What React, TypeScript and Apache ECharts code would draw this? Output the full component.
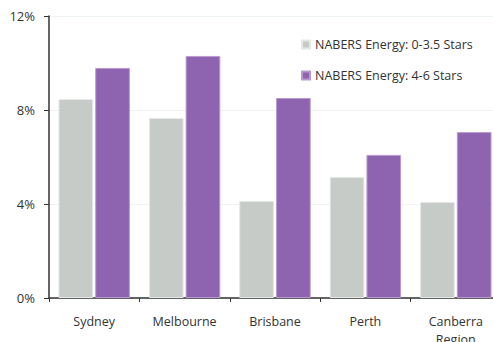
import React, { useEffect, useRef } from "react";
import * as echarts from "echarts";

const categories = ["Sydney", "Melbourne", "Brisbane", "Perth", "Canberra\nRegion"];
const lowStars = [8.47, 7.66, 4.13, 5.15, 4.09];
const highStars = [9.79, 10.3, 8.51, 6.09, 7.06];
const seriesNames = ["NABERS Energy: 0-3.5 Stars", "NABERS Energy: 4-6 Stars"];
const yTicks = [0, 4, 8, 12];

export default function App() {
  const ref = useRef<HTMLDivElement>(null);
  useEffect(() => {
    if (!ref.current) return;
    const chart = echarts.init(ref.current, undefined, { renderer: "svg" });
    const font = "'Open Sans', 'Noto Sans', sans-serif";
    chart.setOption({
      animation: false,
      textStyle: { fontFamily: font },
      grid: { left: 49, top: 16, width: 452, height: 282, containLabel: false, outerBoundsMode: "none" },
      legend: {
        orient: "vertical",
        left: 296,
        top: 33,
        itemGap: 18,
        itemWidth: 8,
        itemHeight: 8,
        icon: "rect",
        textStyle: { fontSize: 12.5, color: "#333", fontFamily: font },
        data: seriesNames,
      },
      xAxis: {
        type: "category",
        data: categories,
        axisLine: { lineStyle: { color: "#333", width: 1.5 } },
        axisTick: { show: true, alignWithLabel: false, length: 4, lineStyle: { color: "#333" } },
        axisLabel: { fontSize: 12.5, color: "#333", margin: 14, lineHeight: 18, fontFamily: font },
      },
      yAxis: {
        type: "value",
        min: yTicks[0],
        max: yTicks[yTicks.length - 1],
        interval: 4,
        axisLine: { show: true, lineStyle: { color: "#333", width: 1.5 } },
        axisTick: { show: true, length: 5, lineStyle: { color: "#333" } },
        axisLabel: { formatter: "{value}%", fontSize: 13, color: "#333", margin: 14, fontFamily: font },
        splitLine: { show: true, lineStyle: { color: "#eef3f3", width: 1 } },
      },
      series: [
        {
          name: seriesNames[0],
          type: "bar",
          data: lowStars,
          barCategoryGap: "21%",
          barGap: "6%",
          itemStyle: { color: "#c6cbc8", borderColor: "#e4e8e6", borderWidth: 1 },
        },
        {
          name: seriesNames[1],
          type: "bar",
          data: highStars,
          barCategoryGap: "21%",
          barGap: "6%",
          itemStyle: { color: "#8e64b1", borderColor: "#b89ad0", borderWidth: 1 },
        },
      ],
    });
    return () => chart.dispose();
  }, []);
  return <div ref={ref} style={{ width: 493, height: 342, position: "absolute", left: 0, top: 0 }} />;
}
